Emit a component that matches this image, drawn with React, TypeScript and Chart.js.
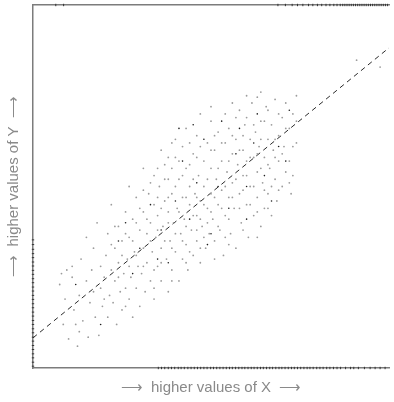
import { useEffect, useRef } from "react";
import { Chart, registerables } from "chart.js";

Chart.register(...registerables);

// Observations (x, y) on a 0–100 scale, light grey dots
const cloudLight: [number, number][] = [
  [7.5, 23], [8, 26], [9, 19], [8.5, 12], [10, 8], [9.5, 27],
  [11, 25], [11, 28], [11.5, 16], [12, 12], [12.5, 6], [13, 20], [13.5, 30], [13, 10],
  [14, 13], [15, 24], [15.5, 8.5], [16, 18], [16.5, 27], [17, 21], [17.5, 14], [17, 33], [15, 36],
  [18.5, 9], [19, 22], [19, 28], [19.5, 17], [20, 25], [20.5, 31], [21, 14], [21, 37], [21.5, 20], [22, 27], [18, 40],
  [22.5, 18], [23, 24], [23, 33], [23.5, 12], [24, 29], [24, 39], [24.5, 21], [25, 16], [25, 35], [25.5, 26], [26, 43], [26, 22], [22, 45],
  [26.5, 30], [27, 19], [27, 36], [27.5, 25], [28, 41], [28, 14], [28.5, 32], [29, 22], [29, 47], [29.5, 28], [30, 38], [30, 17], [27, 50],
  [30.5, 26], [31, 33], [31, 43], [31.5, 21], [32, 37], [32, 29], [32.5, 48], [33, 24], [33, 40], [33.5, 32], [34, 19], [34, 45], [34, 53], [31, 55],
  [34.5, 36], [35, 28], [35, 42], [35.5, 50], [36, 24], [36, 33], [36.5, 39], [37, 46], [37, 56], [37.5, 30], [38, 21], [38, 43], [38, 52], [36, 60],
  [38.5, 35], [39, 27], [39, 48], [39.5, 40], [40, 58], [40, 32], [40.5, 44], [41, 24], [41, 52], [41.5, 37], [42, 47], [42, 61], [42, 30], [39, 62],
  [42.5, 41], [43, 34], [43, 55], [43.5, 27], [44, 45], [44, 50], [44.5, 38], [45, 59], [45, 31], [45.5, 48], [46, 42], [46, 64], [46, 35], [43, 66],
  [46.5, 53], [47, 29], [47, 46], [47.5, 39], [48, 57], [48, 50], [48.5, 33], [49, 44], [49, 62], [49.5, 37], [50, 55], [50, 48], [50, 68], [47, 70],
  [50.5, 41], [51, 35], [51, 60], [51.5, 52], [52, 45], [52, 65], [52.5, 38], [53, 57], [53, 49], [53.5, 31], [54, 62], [54, 42], [54, 70],
  [54.5, 54], [55, 47], [55, 66], [55.5, 37], [56, 59], [56, 51], [56.5, 44], [57, 63], [57, 33], [57.5, 56], [58, 48], [58, 71],
  [58.5, 40], [59, 60], [59, 53], [59.5, 67], [60, 45], [60, 57], [60.5, 36], [61, 63], [61, 50], [61.5, 73], [62, 42], [62, 58],
  [62.5, 65], [63, 47], [63, 54], [63.5, 61], [64, 39], [64, 68], [64.5, 51], [65, 44], [65, 58], [65.5, 72], [66, 63], [66, 48],
  [66.5, 55], [67, 67], [67, 42], [67.5, 60], [68, 52], [68, 74], [68.5, 46], [69, 64], [69, 57], [70, 69], [70, 50],
  [70.5, 61], [71, 73], [71, 54], [72, 57], [72, 66], [72.5, 48], [73, 70], [74, 62], [74, 75], [73, 53],
  [20, 19], [22, 34], [24, 25], [25, 31], [26, 17], [27, 28], [28, 35], [29, 31], [30, 44], [31, 28],
  [32, 41], [33, 35], [33, 51], [34, 27], [35, 38], [35, 47], [36, 44], [36, 29], [37, 35], [37, 52],
  [38, 40], [38, 47], [39, 33], [39, 55], [40, 37], [40, 50], [41, 43], [41, 57], [42, 35], [42, 53],
  [43, 47], [43, 39], [44, 56], [44, 32], [45, 42], [45, 52], [46, 47], [46, 58], [47, 41], [47, 61],
  [48, 36], [48, 45], [49, 52], [49, 40], [50, 60], [50, 43], [51, 47], [51, 64], [52, 55], [52, 39],
  [53, 44], [53, 62], [54, 50], [54, 36], [55, 57], [55, 41], [56, 64], [56, 47], [57, 52], [57, 69],
  [58, 44], [58, 60], [59, 49], [59, 64], [60, 53], [60, 69], [61, 45], [61, 58], [62, 67], [62, 50],
  [63, 59], [63, 43], [64, 55], [64, 63], [65, 49], [65, 68], [66, 56], [66, 71], [67, 50], [68, 63],
  [68, 58], [69, 70], [69, 49], [70, 59], [71, 66], [72, 51], [73, 61], [74, 68], [46, 38], [44, 62],
  [40, 63], [38, 58], [50, 72], [56, 73], [60, 75], [64, 76], [29, 40], [26, 37], [23, 39], [31, 49],
  [35, 55], [34, 22], [39, 24], [43, 29], [47, 33], [51, 30], [55, 34], [59, 38], [63, 36], [66, 44],
  [63, 74.6], [90.9, 84.8], [97.5, 82.9],
];

// Observations drawn darker
const cloudDark: [number, number][] = [
  [12, 23], [19, 12], [24, 35], [28, 26], [30, 33], [33, 45], [36, 38], [38, 29], [40, 46], [42, 57],
  [44, 41], [46, 51], [48, 63], [49, 34], [52, 50], [53, 68], [55, 44], [57, 59], [58, 66], [60, 50],
  [62, 62], [63, 70], [65, 53], [67, 46], [69, 61], [71, 57], [72, 71], [41, 66], [35, 30], [26, 40],
  [60, 41], [50, 37], [45, 67],
];

// Fitted line end points
const trendX = [0, 100];
const trendY = [8.3, 88.2];

// Rug marks along the frame
const rugLeftY = [
  0.5, 1.6, 2.8, 3.9, 5.1, 6.2, 7.4, 8.5, 9.7, 10.8, 12.0, 13.1, 14.3, 15.4, 16.6, 17.7,
  18.9, 20.0, 21.2, 22.3, 23.5, 24.6, 25.8, 26.9, 28.1, 29.2, 30.4, 31.5, 32.7, 34.0, 35.3,
];
const rugBottomX = [
  35.2, 36.1, 37.0, 38.0, 38.9, 39.8, 40.8, 41.6, 42.5, 43.5, 44.4, 45.3, 46.2, 47.1, 48.0, 48.9,
  49.9, 50.7, 51.6, 52.5, 53.4, 54.3, 55.2, 56.0, 56.9, 57.8, 58.7, 59.5, 60.4, 61.3, 62.1, 63.0,
  63.9, 64.7, 65.6, 66.5, 67.3, 68.2, 69.1, 69.9, 70.8, 71.7, 72.6, 73.4, 74.3, 75.2, 76.1, 77.0,
  77.8, 78.7, 79.7, 80.6, 81.5, 82.5, 83.4, 84.4, 85.4, 86.4, 87.8, 89.2, 90.1, 91.4, 93.1, 94.7,
  96.1, 97.5, 98.9,
];
const rugTopX = [
  6.4, 8.6, 68.8, 70.9, 72.8, 74.3, 75.8, 77.4, 78.6, 79.9, 81.1, 82.3, 83.4, 84.5, 85.4, 86.3,
  87.0, 87.6, 88.2, 88.8, 89.4, 90.0, 90.6, 91.2, 91.8, 92.4, 93.0, 93.6, 94.2, 94.8, 95.4, 96.0,
  96.6, 97.2, 97.8, 98.4, 99.0, 99.6,
];

const xTitle = "⟶  higher values of X  ⟶";
const yTitle = "⟶  higher values of Y  ⟶";

const FRAME = "#7c7c7c";
const TITLE_FONT = { family: "Liberation Sans", size: 15, weight: "normal" as const };

export default function App() {
  const canvasRef = useRef<HTMLCanvasElement>(null);

  useEffect(() => {
    const toPoints = (arr: [number, number][]) => arr.map(([x, y]) => ({ x, y }));
    const rug = {
      pointStyle: "line" as const,
      pointRadius: 1.2,
      pointBorderColor: "#333",
      pointBorderWidth: 1,
      clip: false as const,
    };

    const chart = new Chart(canvasRef.current!, {
      type: "scatter",
      data: {
        datasets: [
          {
            data: toPoints(cloudLight),
            pointRadius: 0.9,
            pointBackgroundColor: "#9c9c9c",
            pointBorderWidth: 0,
          },
          {
            data: toPoints(cloudDark),
            pointRadius: 0.8,
            pointBackgroundColor: "#1e1e1e",
            pointBorderWidth: 0,
          },
          {
            type: "line",
            data: trendX.map((x, i) => ({ x, y: trendY[i] })),
            borderColor: "#2a2a2a",
            borderWidth: 1,
            borderDash: [5, 4],
            pointRadius: 0,
            fill: false,
          },
          { data: rugLeftY.map((y) => ({ x: 0, y })), ...rug, pointRotation: 0 },
          { data: rugBottomX.map((x) => ({ x, y: 0 })), ...rug, pointRotation: 90 },
          { data: rugTopX.map((x) => ({ x, y: 100 })), ...rug, pointRotation: 90 },
        ] as any,
      },
      options: {
        animation: false,
        responsive: true,
        maintainAspectRatio: false,
        events: [],
        layout: { padding: { top: 5, right: 0, bottom: 0, left: 0 } },
        plugins: { legend: { display: false }, tooltip: { enabled: false } },
        scales: {
          x: {
            type: "linear",
            position: "bottom",
            min: 0,
            max: 100,
            grid: { display: false, drawTicks: false },
            border: { display: true, color: FRAME, width: 1.5 },
            ticks: { display: false },
            title: {
              display: true,
              text: xTitle,
              color: "#8a8a8a",
              font: TITLE_FONT,
              padding: { top: 11, bottom: 5 },
            },
          },
          xTop: {
            type: "linear",
            position: "top",
            min: 0,
            max: 100,
            grid: { display: false, drawTicks: false },
            border: { display: true, color: FRAME, width: 1.5 },
            ticks: { display: false },
          },
          y: {
            type: "linear",
            min: 0,
            max: 100,
            grid: { display: false, drawTicks: false },
            border: { display: true, color: FRAME, width: 1.5 },
            ticks: { display: false },
            title: {
              display: true,
              text: yTitle,
              color: "#8a8a8a",
              font: TITLE_FONT,
              padding: { top: 5, bottom: 10 },
            },
          },
        },
      },
    });
    return () => chart.destroy();
  }, []);

  return (
    <div style={{ position: "fixed", left: 0, top: 0, width: 394, height: 402, background: "#fff" }}>
      <canvas ref={canvasRef} />
    </div>
  );
}
